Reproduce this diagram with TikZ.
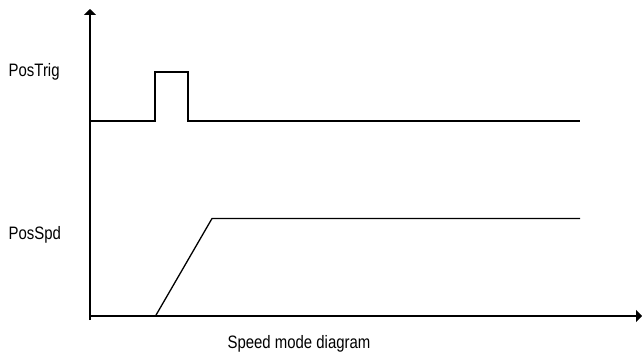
\documentclass[tikz,border=0pt]{standalone}
\usepackage{fontspec}
\setmainfont{Liberation Sans}
\usetikzlibrary{arrows.meta}
\newcommand{\narrowtxt}[1]{\scalebox{0.83}[1]{#1}}
\begin{document}
\begin{tikzpicture}[x=1pt,y=1pt,
  sig/.style={line width=1.3pt, line join=miter},
  axis/.style={line width=1.3pt, -{Triangle[width=12pt,length=6pt]}},
  lbl/.style={font=\fontsize{18}{21}\selectfont, inner sep=0pt}]
\useasboundingbox (0,0) rectangle (642,357);
\coordinate (O) at (90,41);
\coordinate (ytop) at (90,348);
\coordinate (xend) at (642,41);
\draw[axis] (90,37) -- (ytop);
\draw[axis] (O) -- (xend);
% PosTrig
\draw[sig] (90,236) -- (155,236) -- (155,285) -- (188,285) -- (188,236) -- (580,236);
% PosSpd
\draw[sig] (155.5,41) -- (212,138.5) -- (580,138.5);
\node[lbl, anchor=base west] (trig) at (8.5,281) {\narrowtxt{PosTrig}};
\node[lbl, anchor=base west] (spd) at (8.5,118) {\narrowtxt{PosSpd}};
\node[lbl, anchor=base] (cap) at (299,9) {\narrowtxt{Speed mode diagram}};
\end{tikzpicture}
\end{document}
